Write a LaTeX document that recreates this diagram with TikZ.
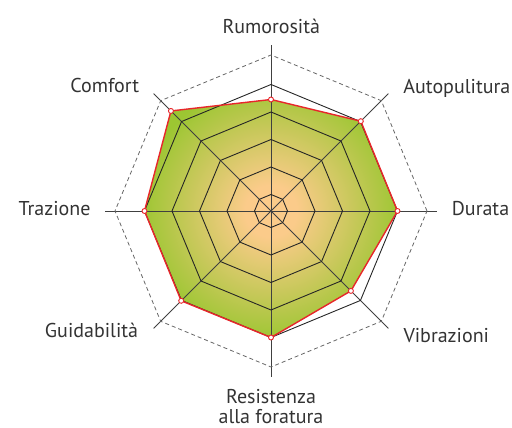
\documentclass[tikz,border=0pt]{standalone}
\usepackage{fontspec}
\setmainfont{PT Sans}
\definecolor{corange}{HTML}{FBCB8A}
\definecolor{cgreen}{HTML}{9CC632}
\definecolor{cred}{HTML}{E8262B}
\definecolor{ctext}{HTML}{333333}
\definecolor{caxis}{HTML}{404040}
\pgfdeclareradialshading{chartshade}{\pgfpoint{0bp}{0bp}}{color(0bp)=(corange); color(5bp)=(corange); color(25bp)=(cgreen); color(50bp)=(cgreen)}
\tikzset{
  ring/.style={draw=black!85, line width=0.9pt, line join=miter},
  axisline/.style={draw=caxis, line width=0.9pt},
  outerdash/.style={draw=black!60, line width=0.8pt, dash pattern=on 4pt off 3pt},
  dataline/.style={draw=cred, line width=1.4pt, line join=round},
  marker/.style={circle, draw=cred, fill=white, line width=0.9pt, inner sep=0pt, minimum size=5pt},
  lbl/.style={font=\fontsize{20}{23}\selectfont, text=ctext, inner sep=0pt}
}
\begin{document}
\begin{tikzpicture}[x=1pt,y=1pt]
\useasboundingbox (0,0) rectangle (512,428);
\begin{scope}[shift={(271,217)}]
  % filled data area
  \path[fill=cgreen] (90:111.5) -- (45:127) -- (0:126.5) -- (-45:113) -- (-90:126.5) -- (-135:127) -- (180:126.5) -- (135:141.5) -- cycle;
  \begin{scope}
    \clip (90:111.5) -- (45:127) -- (0:126.5) -- (-45:113) -- (-90:126.5) -- (-135:127) -- (180:126.5) -- (135:141.5) -- cycle;
    \shade[shading=chartshade] (0,0) circle (130);
  \end{scope}
  % axes
  \foreach \a in {0,45,...,315} \draw[axisline] (0,0) -- (\a:166);
  % rings
  \foreach \r in {16.5,44,71.5,99,126.5}
    \draw[ring] (0:\r) -- (45:\r) -- (90:\r) -- (135:\r) -- (180:\r) -- (225:\r) -- (270:\r) -- (315:\r) -- cycle;
  % dashed outer octagon
  \draw[outerdash] (0:156) -- (45:156) -- (90:156) -- (135:156) -- (180:156) -- (225:156) -- (270:156) -- (315:156) -- cycle;
  % data polygon
  \draw[dataline] (90:111.5) -- (45:127) -- (0:126.5) -- (-45:113) -- (-90:126.5) -- (-135:127) -- (180:126.5) -- (135:141.5) -- cycle;
  \node[marker] (m1) at (90:111.5) {};
  \node[marker] (m2) at (45:127) {};
  \node[marker] (m3) at (0:126.5) {};
  \node[marker] (m4) at (-45:113) {};
  \node[marker] (m5) at (-90:126.5) {};
  \node[marker] (m6) at (-135:127) {};
  \node[marker] (m7) at (180:126.5) {};
  \node[marker] (m8) at (135:141.5) {};
\end{scope}
% labels
\node[lbl, anchor=base] (l1) at (271.3,394) {Rumorosità};
\node[lbl, anchor=base east] (l2) at (510.5,334.5) {Autopulitura};
\node[lbl, anchor=base west] (l3) at (451.7,212) {Durata};
\node[lbl, anchor=base west] (l4) at (403.3,85.3) {Vibrazioni};
\node[lbl, anchor=base] (l5) at (271,24) {Resistenza};
\node[lbl, anchor=base] (l5b) at (271,4) {alla foratura};
\node[lbl, anchor=base east] (l6) at (138.3,90.7) {Guidabilità};
\node[lbl, anchor=base east] (l7) at (90.7,212) {Trazione};
\node[lbl, anchor=base east] (l8) at (139.3,335.3) {Comfort};
\end{tikzpicture}
\end{document}
